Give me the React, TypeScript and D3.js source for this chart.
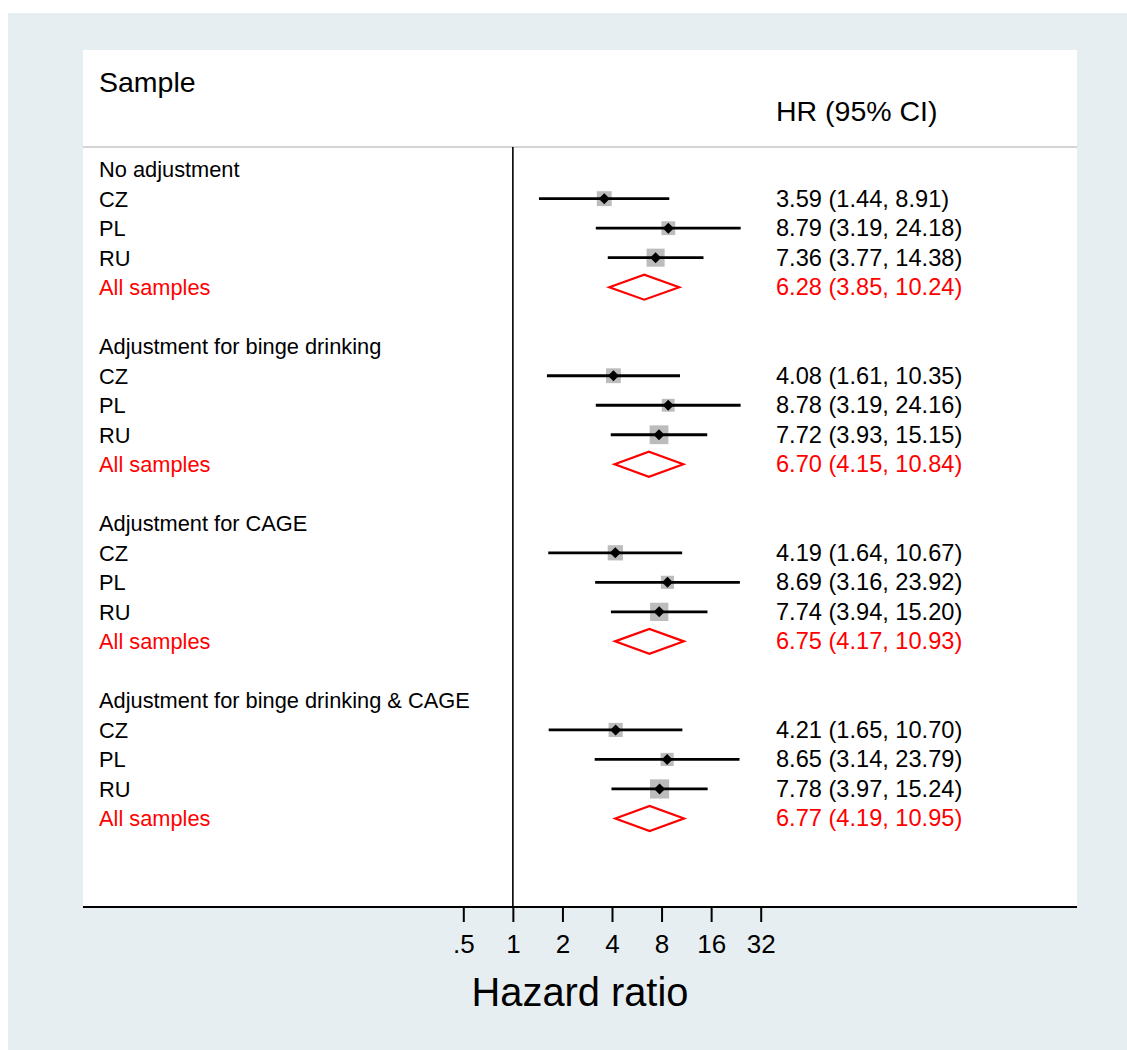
import React, { useRef, useEffect } from "react";
import { select, scaleLog, scaleLinear, scaleSqrt, axisBottom } from "d3";

// forest plot data
const groups = [
  "No adjustment",
  "Adjustment for binge drinking",
  "Adjustment for CAGE",
  "Adjustment for binge drinking & CAGE",
];
const countries = ["CZ", "PL", "RU"];
const hrEst = [
  [3.59, 8.79, 7.36],
  [4.08, 8.78, 7.72],
  [4.19, 8.69, 7.74],
  [4.21, 8.65, 7.78],
];
const hrLow = [
  [1.44, 3.19, 3.77],
  [1.61, 3.19, 3.93],
  [1.64, 3.16, 3.94],
  [1.65, 3.14, 3.97],
];
const hrHigh = [
  [8.91, 24.18, 14.38],
  [10.35, 24.16, 15.15],
  [10.67, 23.92, 15.2],
  [10.7, 23.79, 15.24],
];
const weights = [
  [30.0, 25.8, 44.2],
  [29.8, 22.4, 47.8],
  [31.3, 23.5, 45.1],
  [27.0, 23.3, 49.7],
];
const pooledEst = [6.28, 6.7, 6.75, 6.77];
const pooledLow = [3.85, 4.15, 4.17, 4.19];
const pooledHigh = [10.24, 10.84, 10.93, 10.95];
const tickValues = [0.5, 1, 2, 4, 8, 16, 32];
const tickLabels = [".5", "1", "2", "4", "8", "16", "32"];

const FONT = "'Liberation Sans', Arial, Helvetica, sans-serif";
const RED = "#ff0000";

const App = () => {
  const svgRef = useRef<SVGSVGElement>(null);

  useEffect(() => {
    const width = 1127;
    const height = 1050;
    const panel = { left: 83, right: 1077, top: 50, bottom: 907 };
    const headerLine = 147;

    const svg = select(svgRef.current).attr("width", width).attr("height", height);
    svg.selectAll("*").remove();

    // background regions
    svg.append("rect").attr("x", 8).attr("y", 13).attr("width", width - 8).attr("height", height - 13).attr("fill", "#e7eef1");
    svg
      .append("rect")
      .attr("x", panel.left)
      .attr("y", panel.top)
      .attr("width", panel.right - panel.left)
      .attr("height", panel.bottom - panel.top)
      .attr("fill", "#ffffff");

    const xScale = scaleLog().base(2).domain([0.5, 32]).range([463.3, 760.7]);
    // row index -> y, 25 rows between header line and axis
    const yScale = scaleLinear().domain([-0.75, 25]).range([headerLine, panel.bottom]);
    const boxSize = scaleSqrt().domain([0, 50]).range([0, 19.2]);

    // header
    svg
      .append("line")
      .attr("x1", panel.left)
      .attr("x2", panel.right)
      .attr("y1", headerLine)
      .attr("y2", headerLine)
      .attr("stroke", "#c6c6c6")
      .attr("stroke-width", 1.5);
    svg.append("text").attr("x", 99).attr("y", 92).attr("font-family", FONT).attr("font-size", 28.5).text("Sample");
    svg.append("text").attr("x", 776).attr("y", 121).attr("font-family", FONT).attr("font-size", 28.5).text("HR (95% CI)");

    // null line
    svg
      .append("line")
      .attr("x1", xScale(1))
      .attr("x2", xScale(1))
      .attr("y1", headerLine)
      .attr("y2", panel.bottom)
      .attr("stroke", "#000")
      .attr("stroke-width", 1.6);

    const rowText = (x: number, row: number, txt: string, color = "#000", size = 21.8) =>
      svg
        .append("text")
        .attr("x", x)
        .attr("y", yScale(row) + 8)
        .attr("font-family", FONT)
        .attr("font-size", size)
        .attr("fill", color)
        .text(txt);

    groups.forEach((g, gi) => {
      const base = gi * 6;
      rowText(99, base, g);

      countries.forEach((c, ci) => {
        const row = base + 1 + ci;
        const y = yScale(row);
        const s = boxSize(weights[gi][ci]);
        const xe = xScale(hrEst[gi][ci]);
        rowText(99, row, c);
        rowText(
          776,
          row,
          `${hrEst[gi][ci].toFixed(2)} (${hrLow[gi][ci].toFixed(2)}, ${hrHigh[gi][ci].toFixed(2)})`,
          "#000",
          23.6
        );
        svg
          .append("rect")
          .attr("x", xe - s / 2)
          .attr("y", y - s / 2)
          .attr("width", s)
          .attr("height", s)
          .attr("fill", "#bcbcbc");
        svg
          .append("line")
          .attr("x1", xScale(hrLow[gi][ci]))
          .attr("x2", xScale(hrHigh[gi][ci]))
          .attr("y1", y)
          .attr("y2", y)
          .attr("stroke", "#000")
          .attr("stroke-width", 2.8);
        const d = 5.5;
        svg
          .append("path")
          .attr("d", `M${xe - d},${y} L${xe},${y - d} L${xe + d},${y} L${xe},${y + d} Z`)
          .attr("fill", "#000");
      });

      // pooled estimate
      const prow = base + 4;
      const py = yScale(prow);
      rowText(99, prow, "All samples", RED);
      rowText(
        776,
        prow,
        `${pooledEst[gi].toFixed(2)} (${pooledLow[gi].toFixed(2)}, ${pooledHigh[gi].toFixed(2)})`,
        RED,
        23.6
      );
      const h = 12.5;
      svg
        .append("path")
        .attr(
          "d",
          `M${xScale(pooledLow[gi])},${py} L${xScale(pooledEst[gi])},${py - h} L${xScale(pooledHigh[gi])},${py} L${xScale(
            pooledEst[gi]
          )},${py + h} Z`
        )
        .attr("fill", "none")
        .attr("stroke", RED)
        .attr("stroke-width", 2.2)
        .attr("stroke-linejoin", "miter");
    });

    // x axis
    const xAxis = axisBottom(xScale)
      .tickValues(tickValues)
      .tickFormat((d, i) => tickLabels[i])
      .tickSize(15)
      .tickSizeOuter(0);
    const axisG = svg.append("g").attr("transform", `translate(0,${panel.bottom})`).call(xAxis);
    axisG.select(".domain").remove();
    axisG.selectAll(".tick line").attr("stroke", "#000").attr("stroke-width", 2);
    axisG
      .selectAll(".tick text")
      .attr("font-family", FONT)
      .attr("font-size", 26)
      .attr("fill", "#000")
      .attr("dy", null)
      .attr("y", 46);
    svg
      .append("line")
      .attr("x1", panel.left)
      .attr("x2", panel.right)
      .attr("y1", panel.bottom)
      .attr("y2", panel.bottom)
      .attr("stroke", "#000")
      .attr("stroke-width", 2);

    svg
      .append("text")
      .attr("x", (panel.left + panel.right) / 2)
      .attr("y", 1006)
      .attr("text-anchor", "middle")
      .attr("font-family", FONT)
      .attr("font-size", 39.8)
      .text("Hazard ratio");
  }, []);

  return <svg ref={svgRef} style={{ position: "absolute", left: 0, top: 0 }}></svg>;
};

export default App;
